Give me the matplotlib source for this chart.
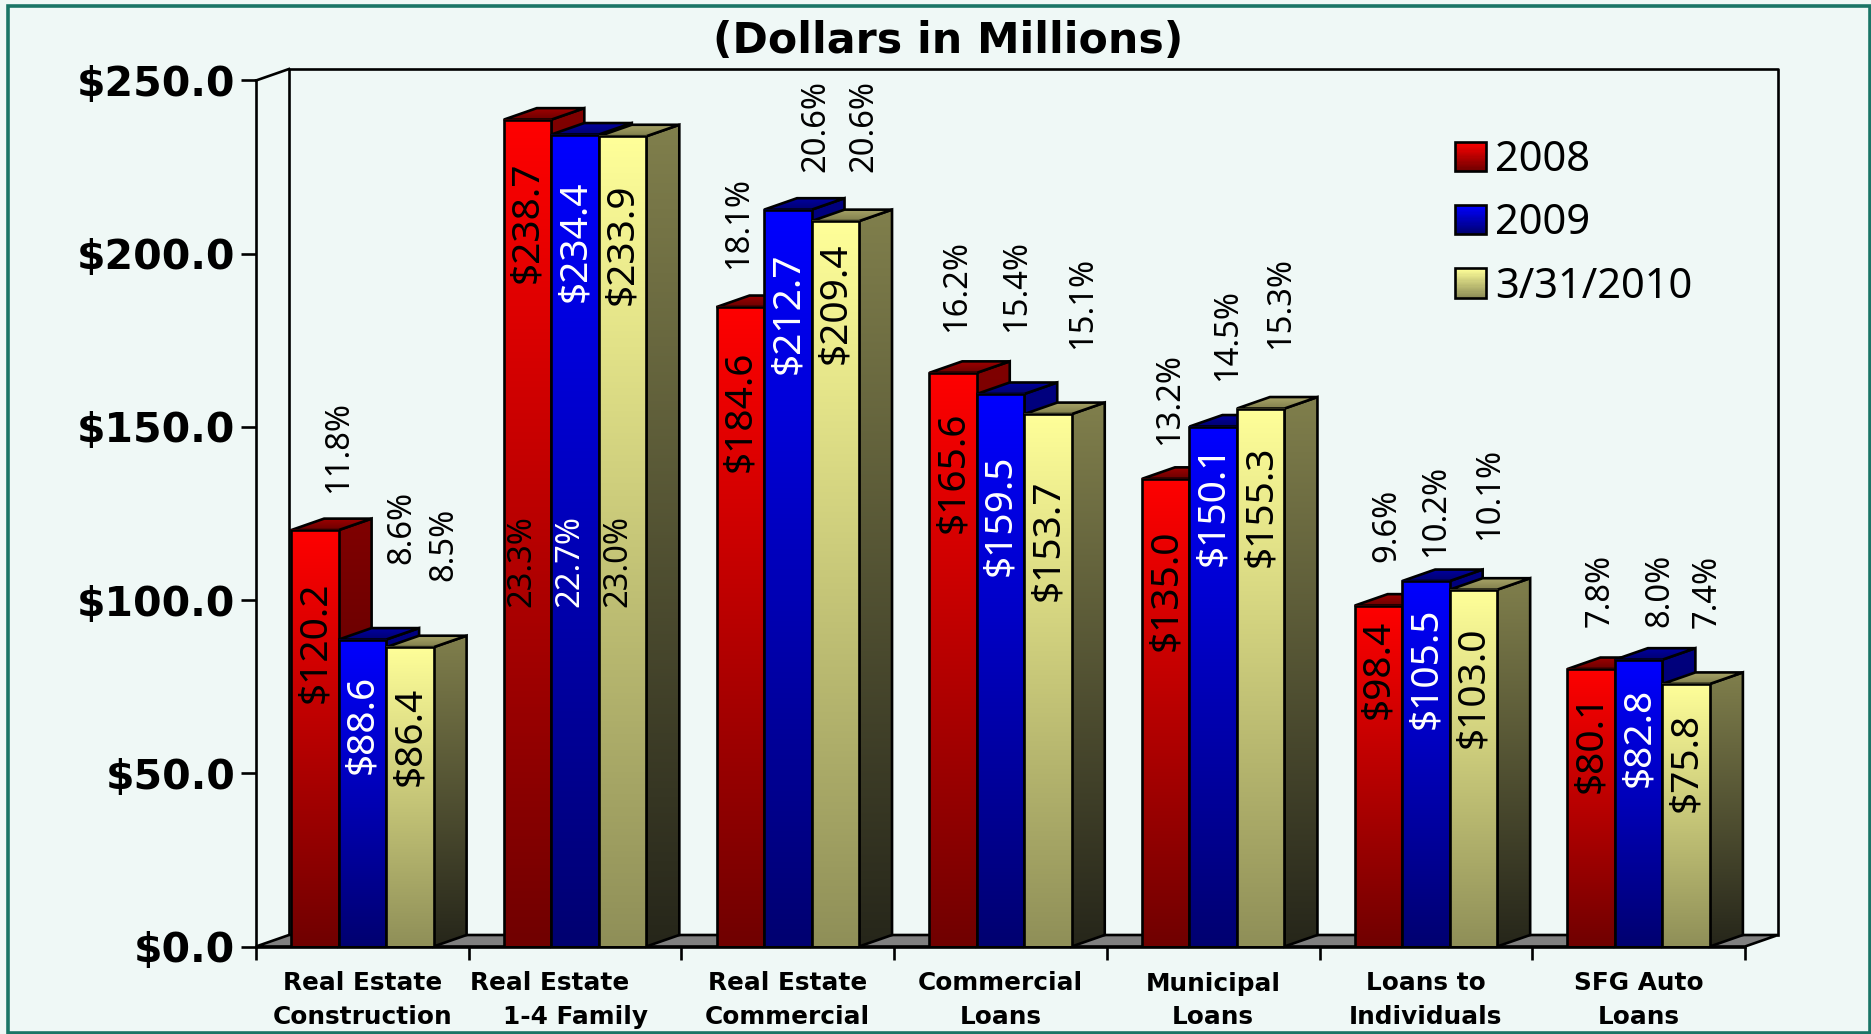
import numpy as np
import matplotlib
matplotlib.use("Agg")
import matplotlib.pyplot as plt
from matplotlib.colors import LinearSegmentedColormap
from matplotlib.legend_handler import HandlerBase
from matplotlib.patches import Patch, Polygon, Rectangle
from matplotlib.transforms import Affine2D

# ---- data ----
categories = ["Real Estate\nConstruction", "Real Estate      \n1-4 Family", "Real Estate\nCommercial",
              "Commercial\nLoans", "Municipal\nLoans", "Loans to\nIndividuals", "SFG Auto\nLoans"]
series_names = ["2008", "2009", "3/31/2010"]
values_2008 = [120.2, 238.7, 184.6, 165.6, 135.0, 98.4, 80.1]
values_2009 = [88.6, 234.4, 212.7, 159.5, 150.1, 105.5, 82.8]
values_2010 = [86.4, 233.9, 209.4, 153.7, 155.3, 103.0, 75.8]
pct_2008 = ["11.8%", "23.3%", "18.1%", "16.2%", "13.2%", "9.6%", "7.8%"]
pct_2009 = ["8.6%", "22.7%", "20.6%", "15.4%", "14.5%", "10.2%", "8.0%"]
pct_2010 = ["8.5%", "23.0%", "20.6%", "15.1%", "15.3%", "10.1%", "7.4%"]
y_ticks = [0, 50, 100, 150, 200, 250]

# ---- layout (reference pixels) ----
W, H = 1871, 1034
drop_2008 = [112, 103, 104, 99, 111, 64, 74]
drop_2009 = [85, 107, 104, 121, 79, 87, 78]
drop_2010 = [89, 108, 82, 126, 98, 98, 78]
S = 1871 / 1568
pct_x_2008 = [284, 437, 619, 802, 980, 1162, 1341]
pct_x_2009 = [337, 478, 684, 852, 1029, 1203, 1391]
pct_x_2010 = [372, 518, 724, 907, 1073, 1248, 1431]
pct_y_2008 = [375, 470, 187, 240, 334, 440, 495]
pct_y_2009 = [442, 470, 106, 240, 281, 428, 495]
pct_y_2010 = [456, 470, 106, 254, 254, 414, 496]

BG = "#EFF8F6"
FONT = "Noto Sans"
BOLD = "DejaVu Sans"
front = [("#FF0000", "#700000"), ("#0000FF", "#000070"), ("#FFFF99", "#8F8F58")]
side = [("#800000", "#400000"), ("#000080", "#000038"), ("#807F4C", "#26261A")]
topc = [("#A00000", "#6B0000"), ("#0000A0", "#000070"), ("#A8A468", "#807F4C")]
text_col = ["black", "white", "black"]

fig = plt.figure(figsize=(W / 100, H / 100), dpi=100, facecolor=BG)
px = Affine2D().scale(1 / W, -1 / H).translate(0, 1) + fig.transFigure
ax = fig.add_axes([256 / W, (H - 946.5) / H, 1489 / W, 866 / H], facecolor="none")
ax.set_xlim(0, 7)
ax.set_ylim(0, 250)
ax.set_autoscale_on(False)

DX = 33 / (1489 / 7)
DY = 11.5 / (866 / 250)
MARGIN = 0.165
BW = 0.2233
lw = 1.9


def grad_poly(verts, colors, z):
    xs, ys = zip(*verts)
    cmap = LinearSegmentedColormap.from_list("g", colors)
    im = ax.imshow(np.linspace(0, 1, 256)[:, None], cmap=cmap, aspect="auto",
                   extent=(min(xs), max(xs), min(ys), max(ys)), origin="upper",
                   zorder=z, interpolation="bilinear")
    p = Polygon(verts, closed=True, fc="none", ec="black", lw=lw, zorder=z + 0.1,
                clip_on=False, joinstyle="miter")
    ax.add_patch(p)
    im.set_clip_path(Polygon(verts, closed=True, transform=ax.transData))


# back wall and floor
ax.plot([DX, DX, 7 + DX, 7 + DX], [DY, 250 + DY, 250 + DY, DY], color="black", lw=lw, clip_on=False, zorder=1)
ax.plot([0, DX], [250, 250 + DY], color="black", lw=lw, clip_on=False, zorder=1)
ax.add_patch(Polygon([(0, 0), (DX, DY), (7 + DX, DY), (7, 0)], closed=True, fc="#808080",
                     ec="black", lw=lw, clip_on=False, zorder=1.5))

# bars
all_values = [values_2008, values_2009, values_2010]
z = 2
for c in range(len(categories)):
    for s, vals in enumerate(all_values):
        v = vals[c]
        x0 = c + MARGIN + s * BW
        x1 = x0 + BW
        grad_poly([(x1, 0), (x1 + DX, DY), (x1 + DX, v + DY), (x1, v)], side[s], z)
        grad_poly([(x0, v), (x1, v), (x1 + DX, v + DY), (x0 + DX, v + DY)], topc[s], z + 0.2)
        cmap = LinearSegmentedColormap.from_list("g", front[s])
        ax.imshow(np.linspace(0, 1, 256)[:, None], cmap=cmap, aspect="auto",
                  extent=(x0, x1, 0, v), origin="upper", zorder=z + 0.4)
        ax.bar(x0, v, width=BW, align="edge", facecolor="none", edgecolor="black", linewidth=lw, zorder=z + 0.5)
        z += 1
ax.set_xlim(0, 7)
ax.set_ylim(0, 250)

# value labels
drops = [drop_2008, drop_2009, drop_2010]
for c in range(len(categories)):
    for s, vals in enumerate(all_values):
        ax.annotate(f"${vals[c]:.1f}", xy=(c + MARGIN + (s + 0.5) * BW, vals[c]),
                    xytext=(0, -drops[s][c]), textcoords="offset pixels", rotation=90,
                    ha="center", va="center", color=text_col[s], fontsize=28, family=FONT,
                    zorder=200, annotation_clip=False)

# percent labels
for s, (lab, xs, ys) in enumerate([(pct_2008, pct_x_2008, pct_y_2008),
                                   (pct_2009, pct_x_2009, pct_y_2009),
                                   (pct_2010, pct_x_2010, pct_y_2010)]):
    for c in range(len(categories)):
        col = "white" if (s == 1 and c == 1) else "black"
        fig.text(xs[c] * S, ys[c] * S, lab[c], transform=px, rotation=90, ha="center", va="center",
                 fontsize=23.5, family=FONT, color=col, zorder=200)

# axes
for sp in ("top", "right"):
    ax.spines[sp].set_visible(False)
for sp in ("left", "bottom"):
    ax.spines[sp].set_linewidth(lw)
    ax.spines[sp].set_zorder(500)
ax.set_yticks(y_ticks)
ax.set_yticklabels([f"${t:.1f}" for t in y_ticks], fontsize=29.5, fontweight="bold", family=BOLD)
ax.tick_params(axis="y", length=10.8, width=lw, pad=4)
ax.set_xticks(range(8))
ax.set_xticklabels([])
ax.tick_params(axis="x", which="major", length=9.4, width=lw)
ax.set_xticks(np.arange(7) + 0.5, minor=True)
ax.set_xticklabels(categories, minor=True, fontsize=17.8, fontweight="bold", family=BOLD, linespacing=1.5)
ax.tick_params(axis="x", which="minor", length=0, pad=18)

# title
fig.text(948, 41, "(Dollars in Millions)", transform=px, ha="center", va="center",
         fontsize=30.7, fontweight="bold", family=BOLD)


# legend with gradient swatches
class GradHandler(HandlerBase):
    def create_artists(self, legend, orig, xd, yd, width, height, fontsize, trans):
        cmap = LinearSegmentedColormap.from_list("g", orig.colors_pair)
        n = 24
        out = []
        for i in range(n):
            out.append(Rectangle((-xd, -yd + height * (1 - (i + 1) / n)), width, height / n,
                                 fc=cmap(i / (n - 1)), ec="none", transform=trans))
        out.append(Rectangle((-xd, -yd), width, height, fc="none", ec="black", lw=lw, transform=trans))
        return out


handles = []
for s in range(3):
    h = Patch(label=series_names[s])
    h.colors_pair = front[s]
    handles.append(h)
ax.legend(handles=handles, handler_map={Patch: GradHandler()}, loc="upper left",
          bbox_to_anchor=(1455, 139), bbox_transform=px, frameon=False, prop={"family": FONT, "size": 30},
          handlelength=0.74, handleheight=0.7, handletextpad=0.22, labelspacing=0.51,
          borderpad=0, borderaxespad=0)

# outer border
fig.add_artist(Rectangle((8, 6), 1862, 1027, transform=px, fc="none", ec="#1A7566", lw=2.6, clip_on=False))

fig.savefig("out.png", dpi=100, facecolor=BG)
